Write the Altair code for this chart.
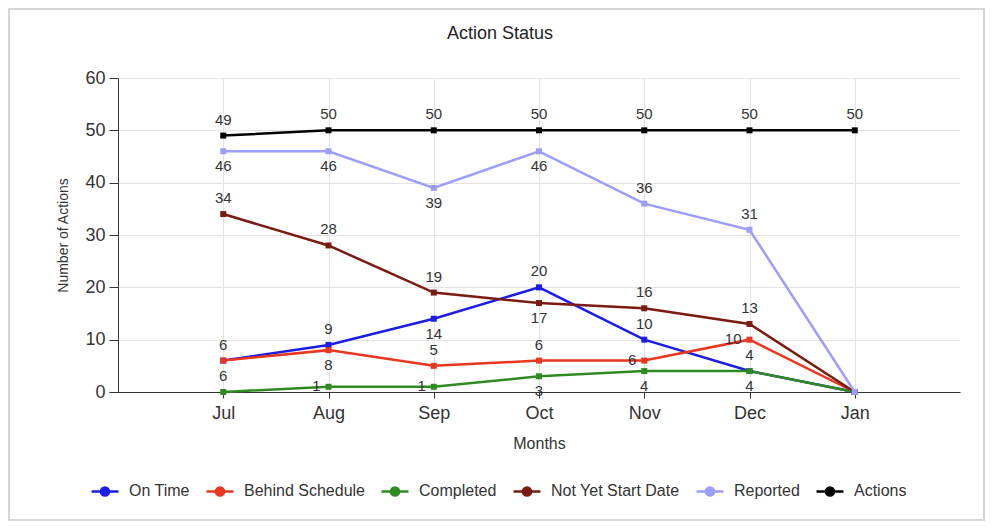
import altair as alt
import pandas as pd

months = ["Jul", "Aug", "Sep", "Oct", "Nov", "Dec", "Jan"]
series = ["On Time", "Behind Schedule", "Completed", "Not Yet Start Date", "Reported", "Actions"]
on_time = [6, 9, 14, 20, 10, 4, 0]
behind = [6, 8, 5, 6, 6, 10, 0]
completed = [0, 1, 1, 3, 4, 4, 0]
not_yet = [34, 28, 19, 17, 16, 13, 0]
reported = [46, 46, 39, 46, 36, 31, 0]
actions = [49, 50, 50, 50, 50, 50, 50]
colors = ["#1c1ce8", "#e8361f", "#2f8a22", "#7a1a10", "#9d9dfb", "#000000"]

# where each point's value label sits
label_pos = {
    "On Time": ["above", "above", "below", "above", "above", "above", "none"],
    "Behind Schedule": ["below", "below", "above", "above", "left", "left", "none"],
    "Completed": ["none", "left", "left", "below", "below", "below", "none"],
    "Not Yet Start Date": ["above", "above", "above", "below", "above", "above", "none"],
    "Reported": ["below", "below", "below", "below", "above", "above", "none"],
    "Actions": ["above", "above", "above", "above", "above", "above", "above"],
}

values = {
    "On Time": on_time,
    "Behind Schedule": behind,
    "Completed": completed,
    "Not Yet Start Date": not_yet,
    "Reported": reported,
    "Actions": actions,
}

rows = []
for s in series:
    for i, m in enumerate(months):
        rows.append({"month": m, "series": s, "value": values[s][i],
                     "pos": label_pos[s][i], "order": series.index(s)})
df = pd.DataFrame(rows)

FONT = "Liberation Sans"

x_enc = alt.X("month:N", sort=months,
              scale=alt.Scale(type="point", padding=1),
              axis=alt.Axis(title="Months", labelAngle=0, labelFontSize=18,
                            labelColor="#333", labelPadding=6, titleFontSize=16,
                            titleFontWeight="normal", titleColor="#333",
                            titlePadding=13, domainColor="#333", tickColor="#333",
                            tickSize=6, gridColor="#e3e3e3", grid=True))
y_enc = alt.Y("value:Q", scale=alt.Scale(domain=[0, 60], nice=False),
              axis=alt.Axis(title="Number of Actions", values=[0, 10, 20, 30, 40, 50, 60],
                            labelFontSize=18, labelColor="#333", labelPadding=4,
                            titleFontSize=14, titleFontWeight="normal",
                            titleColor="#333", titlePadding=14,
                            domainColor="#333", tickColor="#333", tickSize=9,
                            gridColor="#e3e3e3"))

legend_symbol = "M-1,0H1M-0.3,0A0.3,0.3,0,1,1,0.3,0A0.3,0.3,0,1,1,-0.3,0Z"

color_enc = alt.Color(
    "series:N", sort=series,
    scale=alt.Scale(domain=series, range=colors),
    legend=alt.Legend(title=None, orient="none", legendX=-28, legendY=398,
                      direction="horizontal", columns=6, labelFontSize=16,
                      labelColor="#333", labelFont=FONT, symbolType=legend_symbol,
                      symbolSize=729, symbolStrokeWidth=2.5, columnPadding=11,
                      labelOffset=9))

base = alt.Chart(df).encode(x=x_enc, y=y_enc, color=color_enc,
                            order=alt.Order("order:Q"))
lines = base.mark_line(strokeWidth=2.5)
points = base.mark_point(filled=True, shape="square", size=36, opacity=1)

tbase = alt.Chart(df).encode(x=alt.X("month:N", sort=months), y="value:Q",
                             text="value:Q")
above = tbase.transform_filter(alt.datum.pos == "above").mark_text(
    dy=-16, fontSize=15, color="#333", font=FONT)
below = tbase.transform_filter(alt.datum.pos == "below").mark_text(
    dy=15, fontSize=15, color="#333", font=FONT)
left = tbase.transform_filter(alt.datum.pos == "left").mark_text(
    dx=-8, dy=-1, align="right", fontSize=15, color="#333", font=FONT)

frame = alt.Chart(pd.DataFrame({"a": [0]})).mark_rect(
    fillOpacity=0, stroke="#d6d6d6", strokeWidth=2).encode(
    x=alt.value(-109), x2=alt.value(866), y=alt.value(-69), y2=alt.value(442))

chart = alt.layer(frame, lines, points, above, below, left).properties(
    width=842, height=314,
    autosize=alt.AutoSizeParams(type="none"),
    padding={"left": 110, "top": 70, "right": 25, "bottom": 129},
    background="white",
    title=alt.TitleParams("Action Status", fontSize=18, fontWeight="normal",
                          color="#222", font=FONT, offset=-35, dx=-39,
                          frame="group"),
).configure_view(stroke=None).configure_axis(labelFont=FONT, titleFont=FONT)

chart.save("out.html", embed_options={"renderer": "svg", "actions": False})
